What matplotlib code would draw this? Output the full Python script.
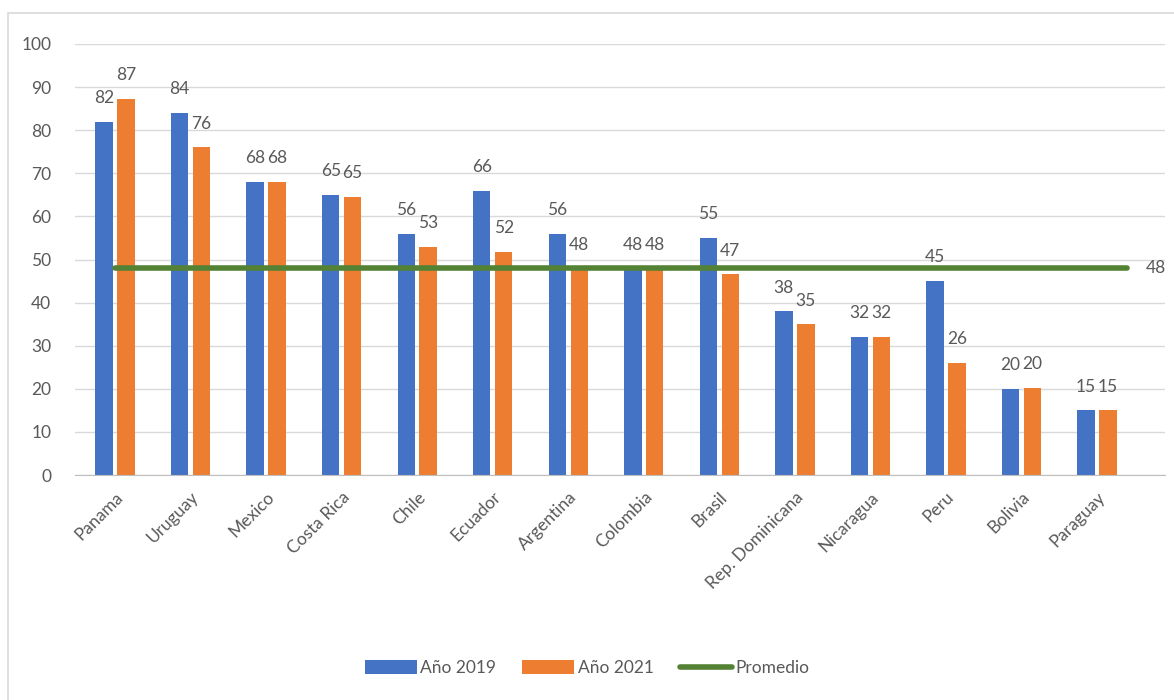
import matplotlib.pyplot as plt
import matplotlib.patches as mpatches
import numpy as np

plt.rcParams['font.family'] = ['Lato', 'DejaVu Sans']

paises = ['Panama', 'Uruguay', 'Mexico', 'Costa Rica', 'Chile', 'Ecuador', 'Argentina',
          'Colombia', 'Brasil', 'Rep. Dominicana', 'Nicaragua', 'Peru', 'Bolivia', 'Paraguay']
anio_2019 = [82, 84, 68, 65, 56, 66, 56, 48, 55, 38, 32, 45, 20, 15]
anio_2021 = [87.3, 76, 68, 64.6, 53, 51.8, 48, 48, 46.6, 35, 32, 26, 20.2, 15]
promedio = 48

azul = '#4472C4'
naranja = '#ED7D31'
verde = '#548235'
gris = '#595959'

fig = plt.figure(figsize=(11.74, 7.0), dpi=100)
ax = fig.add_axes([75 / 1174, 1 - 475 / 700, (1165 - 75) / 1174, (475 - 44) / 700])

# marco exterior
fig.patches.append(mpatches.Rectangle((8 / 1174, -0.01), 1.02, 1 - 13 / 700 + 0.01,
                                      transform=fig.transFigure, fill=False,
                                      edgecolor='#D9D9D9', linewidth=1.2))

x = np.arange(len(paises))
w = 0.23
off = 0.145
b1 = ax.bar(x - off, anio_2019, w, color=azul, label='Año 2019', zorder=2)
b2 = ax.bar(x + off, anio_2021, w, color=naranja, label='Año 2021', zorder=2)
ax.plot([x[0], x[-1] + 0.4], [promedio, promedio], color=verde, linewidth=4,
        solid_capstyle='round', label='Promedio', zorder=3)

for barras in (b1, b2):
    for b in barras:
        h = b.get_height()
        ax.annotate(f'{h:.0f}', (b.get_x() + b.get_width() / 2, h), xytext=(0, 17),
                    textcoords='offset points', ha='center', va='center',
                    fontsize=12.5, color=gris)
ax.annotate(f'{promedio}', (x[-1] + 0.4, promedio), xytext=(13, 0),
            textcoords='offset points', ha='left', va='center', fontsize=12.5, color=gris)

ax.set_ylim(0, 100)
ax.set_xlim(-0.53, 13.9)
ax.set_yticks(range(0, 101, 10))
ax.yaxis.grid(True, color='#D9D9D9', linewidth=1)
ax.set_axisbelow(True)
for s in ['top', 'right', 'left']:
    ax.spines[s].set_visible(False)
ax.spines['bottom'].set_color('#BFBFBF')
ax.tick_params(axis='both', length=0, labelsize=12.5, labelcolor=gris)
ax.tick_params(axis='y', pad=17)
ax.tick_params(axis='x', pad=10)
ax.set_xticks(x)
ax.set_xticklabels(paises, rotation=45, ha='right', rotation_mode='anchor')

fig.legend(handles=[b1, b2, ax.lines[0]], loc='center', bbox_to_anchor=(0.5, 1 - 668 / 700),
           ncol=3, frameon=False, fontsize=12.5, handlelength=3.0, handleheight=0.9,
           columnspacing=1.5, handletextpad=0.2, labelcolor=gris)

fig.savefig('out.png', dpi=100)
